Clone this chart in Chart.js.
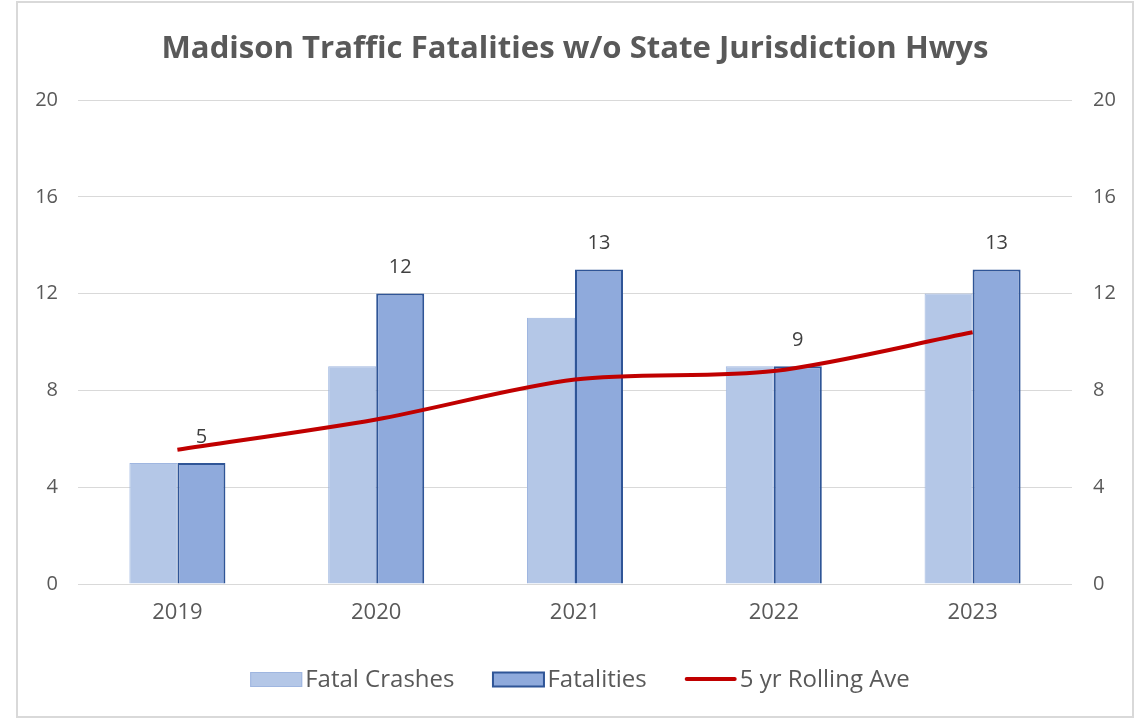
<!DOCTYPE html>
<html>
<head>
<meta charset="utf-8">
<script src="https://cdn.jsdelivr.net/npm/chart.js@4.4.0/dist/chart.umd.min.js"></script>
<style>
  html, body { margin: 0; padding: 0; background: #fff; }
  #wrap { width: 1141px; height: 719px; position: relative; }
</style>
</head>
<body>
<div id="wrap"><canvas id="c" width="1141" height="719"></canvas></div>
<script>
// data
const years = ['2019', '2020', '2021', '2022', '2023'];
const fatalCrashes = [5, 9, 11, 9, 12];
const fatalities = [5, 12, 13, 9, 13];
const rollingAve = [5.55, 6.8, 8.45, 8.8, 10.4];
const yTicks = [0, 4, 8, 12, 16, 20];

const TITLE = 'Madison Traffic Fatalities w/o State Jurisdiction Hwys';
const FONT = '"Open Sans", "Noto Sans", sans-serif';
const GRAY = '#595959';
const LIGHT = '#b4c7e7', LIGHT_EDGE = '#9fb6e0';
const DARK = '#8faadc', DARK_EDGE = '#2f5597';
const RED = '#c00000';

// title, frame, data labels, legend
const decor = {
  id: 'decor',
  afterDraw(chart) {
    const ctx = chart.ctx;
    const area = chart.chartArea;
    ctx.save();

    // frame
    ctx.strokeStyle = '#d9d9d9';
    ctx.lineWidth = 2;
    ctx.strokeRect(17, 2, 1116, 715);

    // title squeezed to the reference width
    ctx.font = 'bold 30px ' + FONT;
    ctx.fillStyle = GRAY;
    ctx.textBaseline = 'alphabetic';
    ctx.textAlign = 'left';
    const tw = ctx.measureText(TITLE).width;
    const target = 827;
    const cx = (area.left + area.right) / 2;
    ctx.save();
    ctx.translate(cx - target / 2, 58);
    ctx.scale(target / tw, 1);
    ctx.fillText(TITLE, 0, 0);
    ctx.restore();

    // value labels above Fatalities bars
    const meta = chart.getDatasetMeta(2);
    ctx.font = '20px ' + FONT;
    ctx.fillStyle = '#404040';
    ctx.textAlign = 'center';
    ctx.textBaseline = 'middle';
    meta.data.forEach((bar, i) => {
      ctx.fillText(String(fatalities[i]), bar.x, bar.y - 26);
    });

    // legend
    const items = [
      { text: 'Fatal Crashes', kind: 'box', fill: LIGHT, edge: LIGHT_EDGE },
      { text: 'Fatalities', kind: 'box', fill: DARK, edge: DARK_EDGE },
      { text: '5 yr Rolling Ave', kind: 'line', fill: RED }
    ];
    ctx.font = '24px ' + FONT;
    ctx.textAlign = 'left';
    ctx.textBaseline = 'middle';
    const sym = 52, gapSym = 3, gapItem = 38, ly = 679;
    let total = 0;
    items.forEach((it, i) => {
      it.w = ctx.measureText(it.text).width;
      total += sym + gapSym + it.w + (i < items.length - 1 ? gapItem : 0);
    });
    let x = 580 - total / 2;
    items.forEach(it => {
      if (it.kind === 'box') {
        ctx.fillStyle = it.fill;
        ctx.fillRect(x, ly - 7, sym, 15);
        ctx.strokeStyle = it.edge;
        ctx.lineWidth = it.edge === DARK_EDGE ? 2 : 1;
        ctx.strokeRect(x + 0.5, ly - 6.5, sym - 1, 14);
      } else {
        ctx.strokeStyle = it.fill;
        ctx.lineWidth = 4;
        ctx.lineCap = 'round';
        ctx.beginPath();
        ctx.moveTo(x + 2, ly);
        ctx.lineTo(x + sym - 2, ly);
        ctx.stroke();
      }
      x += sym + gapSym;
      ctx.fillStyle = GRAY;
      ctx.fillText(it.text, x, ly + 1);
      x += it.w + gapItem;
    });

    ctx.restore();
  }
};

new Chart(document.getElementById('c'), {
  data: {
    labels: years,
    datasets: [
      { type: 'bar', label: 'Fatal Crashes', data: fatalCrashes, backgroundColor: LIGHT,
        borderColor: LIGHT_EDGE, borderWidth: 1, yAxisID: 'y', order: 1 },
      { type: 'line', label: '5 yr Rolling Ave', data: rollingAve, borderColor: RED, borderWidth: 4,
        pointRadius: 0, tension: 0.3, fill: false, yAxisID: 'y', order: 0 },
      { type: 'bar', label: 'Fatalities', data: fatalities, backgroundColor: DARK,
        borderColor: DARK_EDGE, borderWidth: 2, yAxisID: 'y', order: 1 }
    ]
  },
  options: {
    responsive: false,
    animation: false,
    layout: { padding: { top: 100, left: 0, right: 0, bottom: 0 } },
    datasets: { bar: { barPercentage: 1, categoryPercentage: 0.483 } },
    plugins: { legend: { display: false }, title: { display: false }, tooltip: { enabled: false } },
    scales: {
      x: {
        grid: { display: false, drawTicks: false },
        border: { display: false },
        ticks: { color: GRAY, font: { family: FONT, size: 22 }, padding: 16 },
        afterFit(s) { s.height = 135; }
      },
      y: {
        position: 'left', min: 0, max: 20,
        afterBuildTicks(s) { s.ticks = yTicks.map(v => ({ value: v })); },
        grid: { color: '#d9d9d9', lineWidth: 1, drawTicks: false },
        border: { display: false },
        ticks: { color: GRAY, font: { family: FONT, size: 20 }, padding: 20 },
        afterFit(s) { s.width = 78; }
      },
      y2: {
        position: 'right', min: 0, max: 20,
        afterBuildTicks(s) { s.ticks = yTicks.map(v => ({ value: v })); },
        grid: { display: false, drawTicks: false },
        border: { display: false },
        ticks: { color: GRAY, font: { family: FONT, size: 20 }, padding: 21 },
        afterFit(s) { s.width = 69; }
      }
    }
  },
  plugins: [decor]
});
</script>
</body>
</html>
